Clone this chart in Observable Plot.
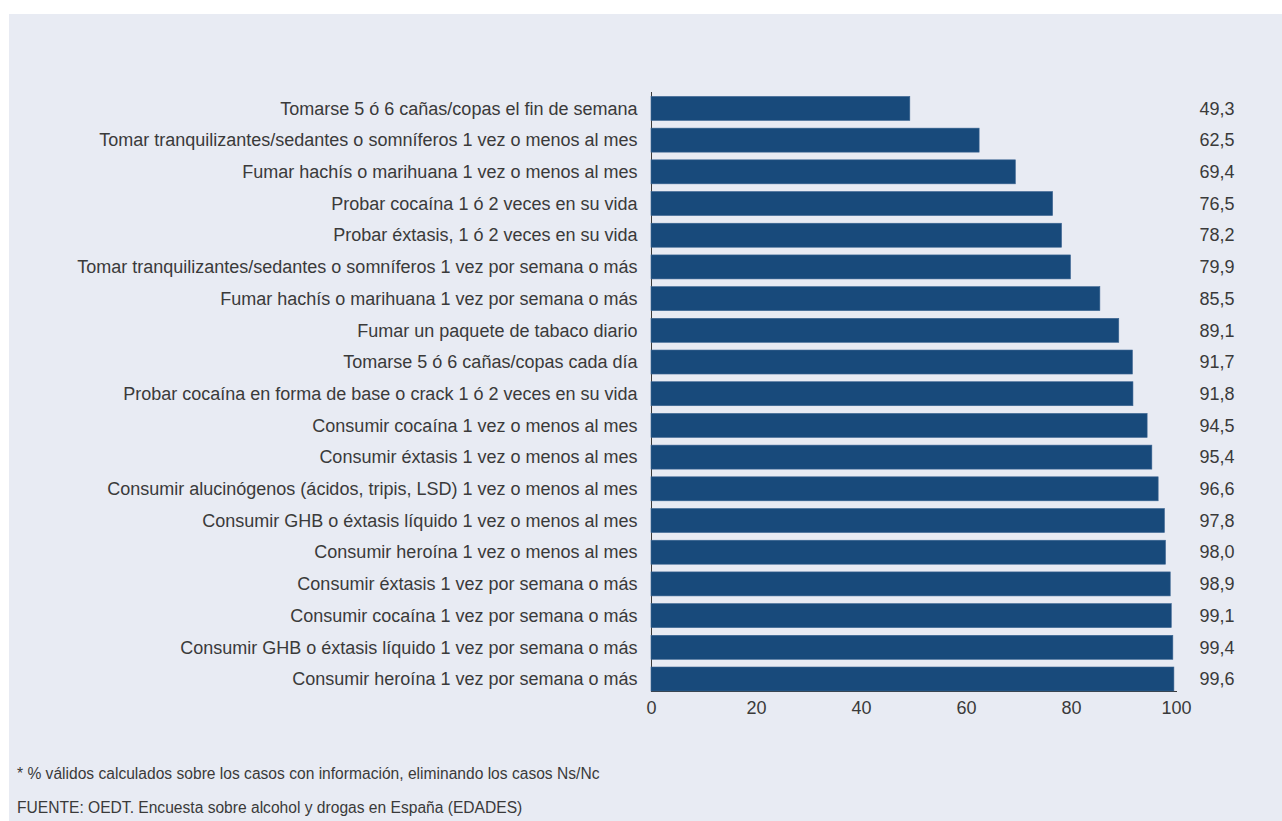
<!DOCTYPE html>
<html>
<head>
<meta charset="utf-8">
<script src="https://cdn.jsdelivr.net/npm/d3@7"></script>
<script src="https://cdn.jsdelivr.net/npm/@observablehq/plot@0.6"></script>
<style>
  html, body { margin: 0; padding: 0; background: #ffffff; }
  #panel { position: absolute; left: 9px; top: 14px; width: 1273px; height: 807px; background: #e8ebf3; font-family: "Liberation Sans", Arial, sans-serif; }
  #chart { position: absolute; left: 0; top: 0; }
  .note { position: absolute; left: 8px; font-size: 15.6px; color: #3a3a3a; white-space: nowrap; }
</style>
</head>
<body>
<div id="panel">
  <div id="chart"></div>
  <div class="note" style="top:751px">* % válidos calculados sobre los casos con información, eliminando los casos Ns/Nc</div>
  <div class="note" style="top:785px">FUENTE: OEDT. Encuesta sobre alcohol y drogas en España (EDADES)</div>
</div>
<script>
const categories = [
  "Tomarse 5 ó 6 cañas/copas el fin de semana",
  "Tomar tranquilizantes/sedantes o somníferos 1 vez o menos al mes",
  "Fumar hachís o marihuana 1 vez o menos al mes",
  "Probar cocaína 1 ó 2 veces en su vida",
  "Probar éxtasis, 1 ó 2 veces en su vida",
  "Tomar tranquilizantes/sedantes o somníferos 1 vez por semana o más",
  "Fumar hachís o marihuana 1 vez por semana o más",
  "Fumar un paquete de tabaco diario",
  "Tomarse 5 ó 6 cañas/copas cada día",
  "Probar cocaína en forma de base o crack 1 ó 2 veces en su vida",
  "Consumir cocaína 1 vez o menos al mes",
  "Consumir éxtasis 1 vez o menos al mes",
  "Consumir alucinógenos (ácidos, tripis, LSD) 1 vez o menos al mes",
  "Consumir GHB o éxtasis líquido 1 vez o menos al mes",
  "Consumir heroína 1 vez o menos al mes",
  "Consumir éxtasis 1 vez por semana o más",
  "Consumir cocaína 1 vez por semana o más",
  "Consumir GHB o éxtasis líquido 1 vez por semana o más",
  "Consumir heroína 1 vez por semana o más"
];
const values = [49.3, 62.5, 69.4, 76.5, 78.2, 79.9, 85.5, 89.1, 91.7, 91.8, 94.5, 95.4, 96.6, 97.8, 98.0, 98.9, 99.1, 99.4, 99.6];
const xTicks = [0, 20, 40, 60, 80, 100];

const data = categories.map((c, i) => ({category: c, value: values[i]}));
const fmt = v => v.toFixed(1).replace(".", ",");

const chart = Plot.plot({
  width: 1273,
  height: 730,
  marginLeft: 642,
  marginRight: 106,
  marginTop: 78,
  marginBottom: 53,
  style: {background: "transparent", fontFamily: "Liberation Sans, Arial, sans-serif", fontSize: "18px", color: "#3a3a3a"},
  x: {domain: [0, 100], ticks: xTicks, tickSize: 0, tickPadding: 10, line: true, label: null},
  y: {domain: categories, paddingInner: 0.243, paddingOuter: 0.07, align: 1, round: false, tickSize: 0, tickPadding: 14, line: true, label: null},
  marks: [
    Plot.barX(data, {x: "value", y: "category", fill: "#184a7b", stroke: "#3c6592", strokeWidth: 0.6}),
    Plot.text(data, {x: 100, y: "category", text: d => fmt(d.value), textAnchor: "end", dx: 58, fontSize: 18, fill: "#3a3a3a"})
  ]
});
chart.querySelectorAll("path").forEach(p => { if (p.getAttribute("stroke") === "currentColor") p.setAttribute("stroke", "#8a8a8a"); });
document.getElementById("chart").appendChild(chart);
</script>
</body>
</html>
